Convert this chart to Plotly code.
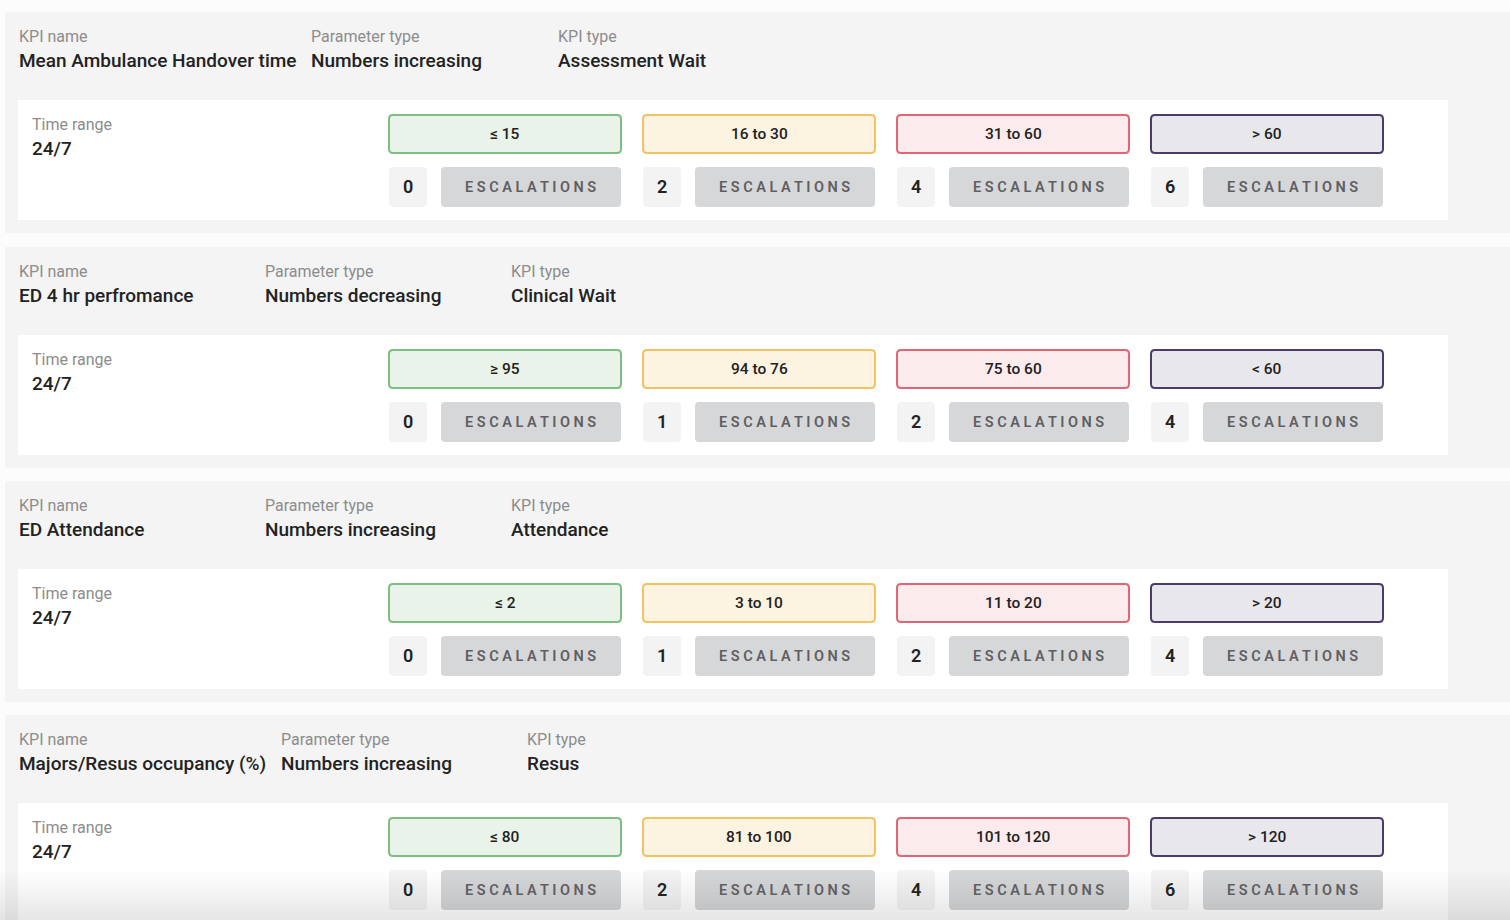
import plotly.graph_objects as go

# KPI rows
kpi_names = ["Mean Ambulance Handover time", "ED 4 hr perfromance", "ED Attendance", "Majors/Resus occupancy (%)"]
param_types = ["Numbers increasing", "Numbers decreasing", "Numbers increasing", "Numbers increasing"]
kpi_types = ["Assessment Wait", "Clinical Wait", "Attendance", "Resus"]
time_ranges = ["24/7", "24/7", "24/7", "24/7"]

range_labels = [
    ["≤ 15", "16 to 30", "31 to 60", "> 60"],
    ["≥ 95", "94 to 76", "75 to 60", "< 60"],
    ["≤ 2", "3 to 10", "11 to 20", "> 20"],
    ["≤ 80", "81 to 100", "101 to 120", "> 120"],
]
escalations = [
    [0, 2, 4, 6],
    [0, 1, 2, 4],
    [0, 1, 2, 4],
    [0, 2, 4, 6],
]

# layout bits
W, H = 1510, 920
panel_top = [12, 247, 481, 715]
param_x = [309, 263, 263, 279]
ktype_x = [556, 509, 509, 525]
col_x = [389, 643, 897, 1151]
level_fill = ["#e9f3e9", "#fcf3e1", "#fcebed", "#e8e7ec"]
level_line = ["#7dbf80", "#efc263", "#de6675", "#4b3b6b"]

FONT = "Roboto"


def rrect(x0, y0, x1, y1, r=4):
    return (f"M {x0+r},{y0} L {x1-r},{y0} Q {x1},{y0} {x1},{y0+r} "
            f"L {x1},{y1-r} Q {x1},{y1} {x1-r},{y1} L {x0+r},{y1} "
            f"Q {x0},{y1} {x0},{y1-r} L {x0},{y0+r} Q {x0},{y0} {x0+r},{y0} Z")


shapes = []
ann = []


def text(x, y, s, size, color, weight=400, anchor="left"):
    ann.append(dict(x=x, y=y, text=s, showarrow=False, xanchor=anchor, yanchor="middle",
                    font=dict(family=FONT, size=size, color=color, weight=weight)))


for i, top in enumerate(panel_top):
    # grey panel
    shapes.append(dict(type="rect", x0=5, x1=W + 5, y0=top, y1=top + 221,
                       fillcolor="#f4f4f4", line=dict(width=0), layer="below"))
    # white inner card
    shapes.append(dict(type="rect", x0=18, x1=1448, y0=top + 88, y1=top + 208,
                       fillcolor="#ffffff", line=dict(width=0), layer="below"))

    text(17, top + 24, "KPI name", 16, "#8c8c8c")
    text(17, top + 48, kpi_names[i], 19, "#222222", 500)
    text(param_x[i], top + 24, "Parameter type", 16, "#8c8c8c")
    text(param_x[i], top + 48, param_types[i], 19, "#222222", 500)
    text(ktype_x[i], top + 24, "KPI type", 16, "#8c8c8c")
    text(ktype_x[i], top + 48, kpi_types[i], 19, "#222222", 500)

    text(30, top + 112, "Time range", 16, "#8c8c8c")
    text(30, top + 136, time_ranges[i], 19, "#222222", 500)

    for j, cx in enumerate(col_x):
        # threshold box
        shapes.append(dict(type="path", path=rrect(cx, top + 103, cx + 232, top + 141, 4),
                           fillcolor=level_fill[j], line=dict(color=level_line[j], width=2)))
        text(cx + 116, top + 122, range_labels[i][j], 15.5, "#222222", 500, "center")
        # escalation count
        shapes.append(dict(type="path", path=rrect(cx, top + 155, cx + 38, top + 195, 4),
                           fillcolor="#f3f3f3", line=dict(width=0)))
        text(cx + 19, top + 174, str(escalations[i][j]), 18, "#222222", 600, "center")
        shapes.append(dict(type="path", path=rrect(cx + 52, top + 155, cx + 232, top + 195, 4),
                           fillcolor="#d6d7d9", line=dict(width=0)))
        text(cx + 141, top + 175, " ".join("ESCALATIONS"), 14.5, "#5e5f62", 600, "center")

# soft shadow at the bottom of the screenshot
for k in range(12):
    shapes.append(dict(type="rect", x0=0, x1=W, y0=872 + k * 4, y1=H,
                       fillcolor="rgba(0,0,0,0.006)", line=dict(width=0)))

fig = go.Figure()
fig.add_trace(go.Scatter(x=[0, W], y=[0, H], mode="markers", marker=dict(opacity=0),
                         hoverinfo="skip", showlegend=False))
fig.update_layout(
    width=W, height=H,
    margin=dict(l=0, r=0, t=0, b=0),
    paper_bgcolor="#fcfcfc", plot_bgcolor="#fcfcfc",
    xaxis=dict(range=[0, W], visible=False, fixedrange=True),
    yaxis=dict(range=[H, 0], visible=False, fixedrange=True),
    shapes=shapes, annotations=ann,
)
fig.write_html("out.html", config={"displayModeBar": False},
               post_script="document.body.style.margin='0';document.body.style.overflow='hidden';")
